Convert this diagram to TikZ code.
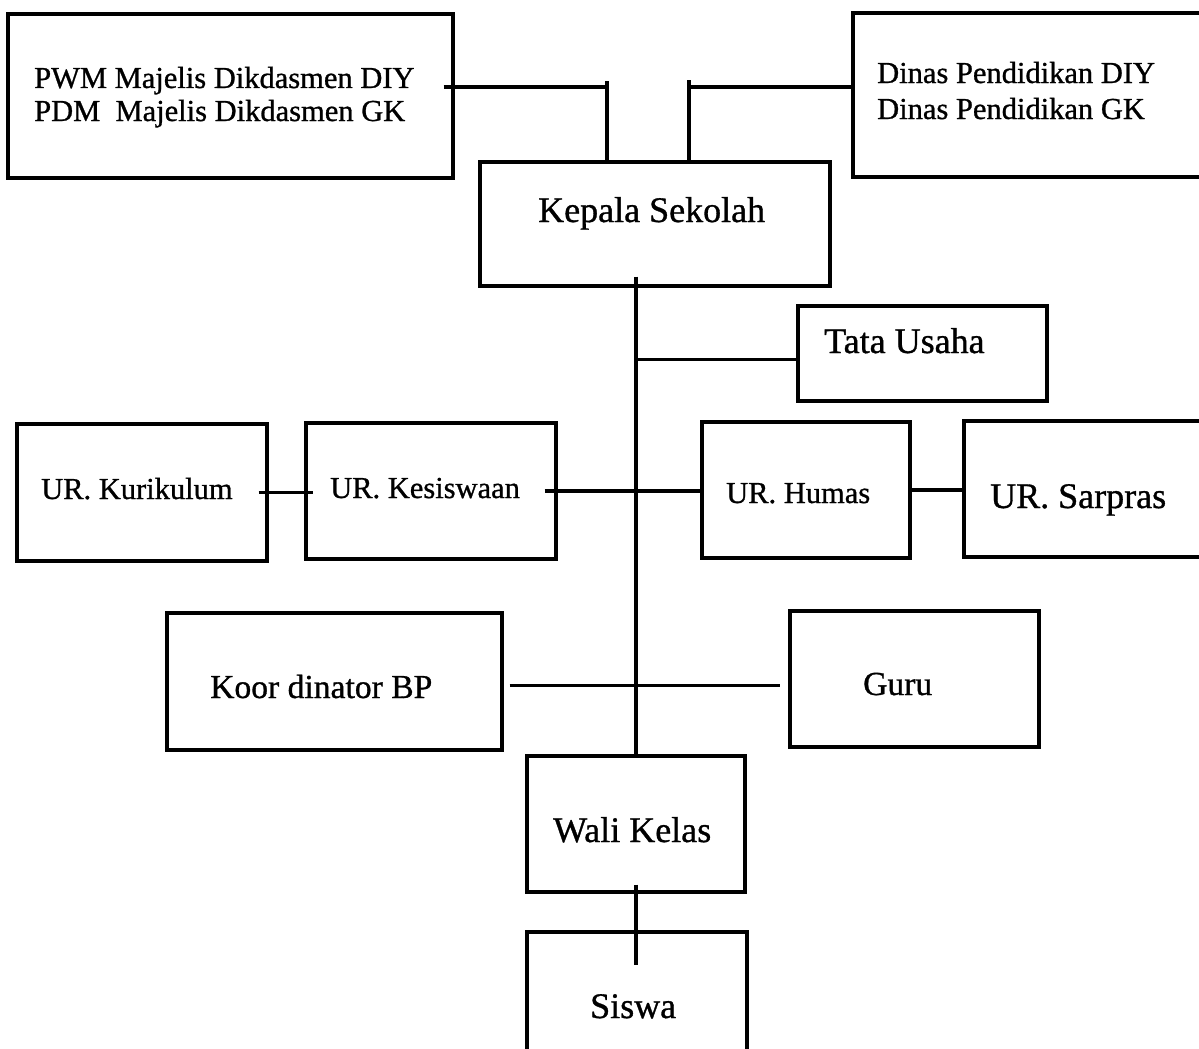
\documentclass[tikz,border=0pt]{standalone}
\usepackage{fontspec}
\setmainfont{Liberation Serif}[FakeBold=0.9]
\usetikzlibrary{fit,calc}
\begin{document}
\begin{tikzpicture}[x=1pt,y=-1pt,
  box/.style={draw, line width=3.1pt, inner sep=0pt, rectangle},
  conn/.style={line width=3.1pt},
  txt/.style={inner sep=0pt, anchor=base west},
  fA/.style={font=\fontsize{30.5}{36}\selectfont},
  fB/.style={font=\fontsize{36}{42}\selectfont},
  fC/.style={font=\fontsize{33.6}{40}\selectfont}]
\useasboundingbox (0,0) rectangle (1199,1049);
\clip (0,0) rectangle (1199,1049);
% boxes
\node[box, fit={(8,14) (453,178)}] (pwm) {};
\node[box, fit={(853,13) (1215,177)}] (dinas) {};
\node[box, fit={(480,162) (830,286)}] (kep) {};
\node[box, fit={(798,306) (1047,401)}] (tata) {};
\node[box, fit={(17,424) (267,561)}] (kur) {};
\node[box, fit={(306,423) (556,559)}] (kes) {};
\node[box, fit={(702,422) (910,558)}] (hum) {};
\node[box, fit={(964,421) (1215,557)}] (sar) {};
\node[box, fit={(167,613) (502,750)}] (koor) {};
\node[box, fit={(790,611) (1039,747)}] (guru) {};
\node[box, fit={(527,756) (745,892)}] (wali) {};
\node[box, fit={(527,932) (747,1065)}] (siswa) {};
% texts
\node[txt, fA] (pwmA) at (34,88) {PWM Majelis Dikdasmen DIY};
\node[txt, fA] (pwmB) at (34,121) {PDM\hspace{0.5em}Majelis Dikdasmen GK};
\node[txt, fA] (dinA) at (877,83) {Dinas Pendidikan DIY};
\node[txt, fA] (dinB) at (877,119) {Dinas Pendidikan GK};
\node[txt, fB] (kepT) at (538,222) {Kepala Sekolah};
\node[txt, fB] (tataT) at (824,353) {Tata Usaha};
\node[txt, fA] (kurT) at (41,499) {UR. Kurikulum};
\node[txt, fA] (kesT) at (330,498) {UR. Kesiswaan};
\node[txt, fA] (humT) at (726,503) {UR. Humas};
\node[txt, fB] (sarT) at (990,508) {UR. Sarpras};
\node[txt, fC] (koorT) at (210,698) {Koor dinator BP};
\node[txt, fC] (guruT) at (863,695) {Guru};
\node[txt, fB] (waliT) at (553,842) {Wali Kelas};
\node[txt, fB] (siswaT) at (590,1018) {Siswa};
% connectors
\coordinate (jp) at (607,87);
\draw[conn] ($(pwm.east|-jp)+(-11,0)$) -- (jp);
\draw[conn] ($(jp)+(0,-6)$) -- (jp|-kep.north);
\coordinate (jd) at (689,87);
\draw[conn] (jd) -- (jd-|dinas.west);
\draw[conn] ($(jd)+(0,-7)$) -- (jd|-kep.north);
\draw[conn] ($(wali.north|-kep.south)+(0,-11)$) -- (wali.north);
\coordinate (jt) at ($(wali.north|-tata.west)+(0,6)$);
\draw[conn] (jt) -- (jt-|tata.west);
\draw[conn] ($(kur.east)+(-10,0)$) -- ($(kes.west|-kur.east)+(9,0)$);
\draw[conn] ($(kes.east)+(-13,0)$) -- (hum.west|-kes.east);
\draw[conn] (hum.east) -- (hum.east-|sar.west);
\coordinate (jk) at ($(koor.east)+(6,4)$);
\draw[conn] (jk) -- ($(jk-|guru.west)+(-8,0)$);
\draw[conn] ($(wali.south)+(0,-9)$) -- ($(wali.south|-siswa.north)+(0,35)$);
\end{tikzpicture}
\end{document}
